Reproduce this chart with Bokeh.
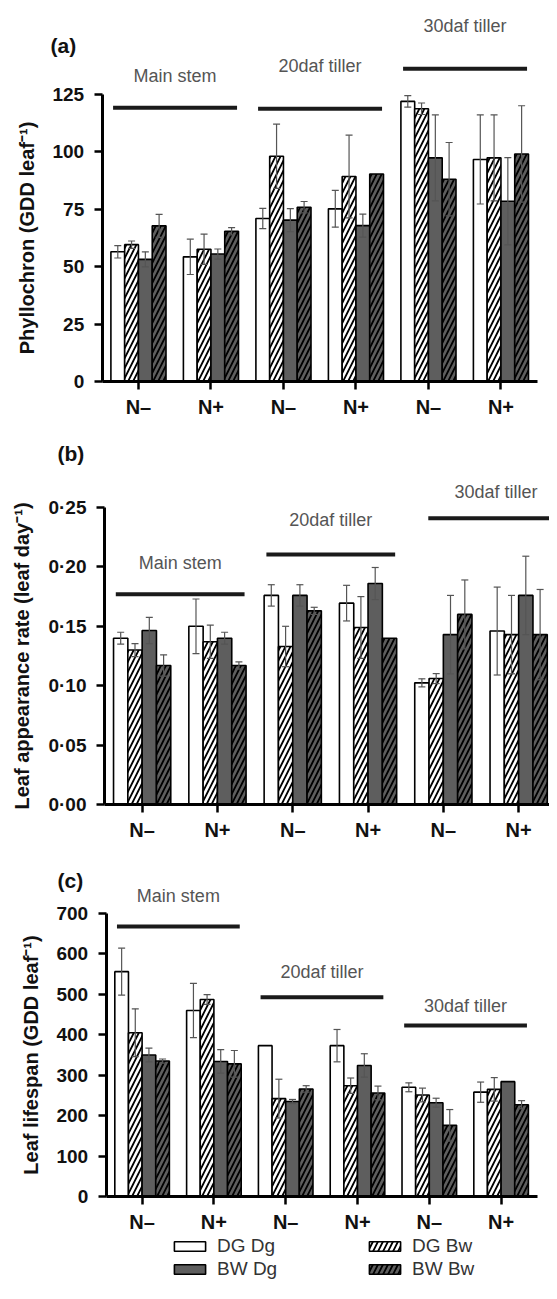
from bokeh.plotting import figure
from bokeh.models import (ColumnDataSource, Whisker, TeeHead, Range1d, FixedTicker,
                          Label, Legend, LegendItem)
from bokeh.layouts import column
from bokeh.embed import file_html
from bokeh.resources import INLINE
from bokeh.core.properties import value

# ---------------- data ----------------
groups = ["Main stem", "20daf tiller", "30daf tiller"]
n_levels = ["N\u2013", "N+"]
series = ["DG Dg", "DG Bw", "BW Dg", "BW Bw"]

# order of positions: Main N-, Main N+, 20daf N-, 20daf N+, 30daf N-, 30daf N+
phyllo_dgdg = [56.5, 54.3, 71.0, 75.2, 122.0, 96.7]
phyllo_dgbw = [59.6, 57.6, 98.1, 89.3, 118.8, 97.4]
phyllo_bwdg = [53.2, 55.5, 70.3, 67.9, 97.4, 78.5]
phyllo_bwbw = [67.8, 65.4, 75.9, 90.4, 88.1, 99.1]
phyllo_err_dgdg = [2.7, 7.7, 4.4, 8.0, 2.5, 19.4]
phyllo_err_dgbw = [1.6, 6.6, 14.0, 18.0, 2.5, 18.7]
phyllo_err_bwdg = [3.3, 2.2, 5.0, 5.0, 18.7, 19.0]
phyllo_err_bwbw = [5.0, 1.6, 2.5, 0.0, 16.0, 21.0]

lar_dgdg = [0.140, 0.150, 0.176, 0.1695, 0.1024, 0.146]
lar_dgbw = [0.130, 0.137, 0.133, 0.149, 0.106, 0.143]
lar_bwdg = [0.1465, 0.140, 0.176, 0.186, 0.143, 0.176]
lar_bwbw = [0.117, 0.117, 0.163, 0.140, 0.160, 0.143]
lar_err_dgdg = [0.005, 0.023, 0.009, 0.015, 0.0034, 0.037]
lar_err_dgbw = [0.0055, 0.014, 0.017, 0.026, 0.0042, 0.033]
lar_err_bwdg = [0.011, 0.005, 0.009, 0.0135, 0.033, 0.033]
lar_err_bwbw = [0.009, 0.003, 0.003, 0.0, 0.029, 0.038]

life_dgdg = [556, 460, 373, 373, 270, 258]
life_dgbw = [405, 487, 242, 274, 251, 265]
life_bwdg = [350, 334, 235, 324, 232, 284]
life_bwbw = [335, 328, 266, 256, 176, 227]
life_err_dgdg = [58, 67, 0, 40, 11, 25]
life_err_dgbw = [59, 12, 48, 19, 17, 29]
life_err_bwdg = [17, 29, 5, 29, 11, 0]
life_err_bwbw = [5, 33, 8, 17, 39, 10]

ticks_a = [0, 25, 50, 75, 100, 125]
ticks_b = [0.0, 0.05, 0.10, 0.15, 0.20, 0.25]
tick_labels_b = ["0\u00b700", "0\u00b705", "0\u00b710", "0\u00b715", "0\u00b720", "0\u00b725"]
ticks_c = [0, 100, 200, 300, 400, 500, 600, 700]

# group bracket heights (line, label) per panel
bracket_a = ([119.2, 118.8, 136.2], [133.0, 137.6, 154.7])
bracket_b = ([0.177, 0.2104, 0.241], [0.203, 0.2396, 0.263])
bracket_c = ([667.7, 493.0, 423.0], [744.0, 554.6, 472.0])

# ---------------- styles ----------------
FONT = "Liberation Sans"
DARK = "#5e5e5e"
INK = "#111111"
styles = [
    dict(fill_color="white", hatch_pattern=" "),
    dict(fill_color="white", hatch_pattern="/"),
    dict(fill_color=DARK, hatch_pattern=" "),
    dict(fill_color=DARK, hatch_pattern="/"),
]
offsets = [-0.285, -0.095, 0.095, 0.285]
BAR_W = 0.19
W = 549


def make_panel(means, errs, ylabel, ticks, tick_labels, ybound,
               H, axis_px, unit_px, zero_px, y_px, brackets, letter, letter_xy):
    # frame covers the whole canvas; axes are fixed at x=0 / y=0 in data space
    x0 = -axis_px / unit_px
    x1 = x0 + W / unit_px
    y1 = zero_px / y_px
    y0 = -(H - zero_px) / y_px
    p = figure(width=W, height=H, output_backend="svg", toolbar_location=None,
               x_range=Range1d(x0, x1), y_range=Range1d(y0, y1),
               min_border=0, min_border_left=0, min_border_right=0,
               min_border_top=0, min_border_bottom=0)
    p.outline_line_color = None
    p.grid.visible = False
    p.background_fill_color = None
    p.border_fill_color = None

    renderers = []
    for k in range(4):
        xs = [i + 0.5 + offsets[k] for i in range(6)]
        src = ColumnDataSource(dict(x=xs, top=means[k]))
        r = p.vbar(x="x", top="top", width=BAR_W, bottom=0, source=src,
                   line_color="black", line_width=1.6, hatch_color="black",
                   hatch_scale=10, hatch_weight=1.8, **styles[k])
        renderers.append(r)
        ex = [x for x, e in zip(xs, errs[k]) if e > 0]
        lo = [m - e for m, e in zip(means[k], errs[k]) if e > 0]
        up = [m + e for m, e in zip(means[k], errs[k]) if e > 0]
        wsrc = ColumnDataSource(dict(x=ex, lower=lo, upper=up))
        w = Whisker(base="x", lower="lower", upper="upper", source=wsrc,
                    line_color="#555555", line_width=1.2, level="overlay",
                    upper_head=TeeHead(size=7, line_color="#555555", line_width=1.2),
                    lower_head=TeeHead(size=7, line_color="#555555", line_width=1.2))
        p.add_layout(w)

    line_y, label_y = brackets
    gx0 = [2 * g + 0.15 for g in range(3)]
    gx1 = [2 * g + 1.86 for g in range(3)]
    if letter == "(b)":
        gx0[2] = 4.3
        gx1[2] = 6.1
    p.segment(x0=gx0, x1=gx1, y0=line_y, y1=line_y, line_width=4, line_color="#1a1a1a")
    p.text(x=[(a + b) / 2 for a, b in zip(gx0, gx1)], y=label_y, text=groups,
           text_font=value(FONT), text_font_size="18px", text_color="#555555",
           text_align="center", text_baseline="middle")

    # x axis
    xa = p.xaxis[0]
    xa.fixed_location = 0
    xa.bounds = (0, 6)
    xa.ticker = FixedTicker(ticks=[i + 0.5 for i in range(6)])
    xa.major_label_overrides = {i + 0.5: n_levels[i % 2] for i in range(6)}
    xa.minor_tick_line_color = None
    xa.major_tick_in = 0
    xa.major_tick_out = 8
    xa.major_tick_line_width = 2.5
    xa.axis_line_width = 3
    xa.major_label_standoff = 6
    xa.major_label_text_font = FONT
    xa.major_label_text_font_size = "20px"
    xa.major_label_text_font_style = "bold"
    xa.major_label_text_color = INK

    ya = p.yaxis[0]
    ya.fixed_location = 0
    ya.ticker = FixedTicker(ticks=ticks)
    if tick_labels is not None:
        ya.major_label_overrides = {t: s for t, s in zip(ticks, tick_labels)}
    ya.bounds = (0, ybound)
    ya.minor_tick_line_color = None
    ya.major_tick_in = 0
    ya.major_tick_out = 8
    ya.major_tick_line_width = 2.5
    ya.axis_line_width = 3
    ya.major_label_standoff = 10
    ya.major_label_text_font = FONT
    ya.major_label_text_font_size = "19px"
    ya.major_label_text_font_style = "bold"
    ya.major_label_text_color = INK
    ya.axis_label = ylabel
    ya.axis_label_text_font = FONT
    ya.axis_label_text_font_size = "20px"
    ya.axis_label_text_font_style = "bold"
    ya.axis_label_text_color = INK
    ya.axis_label_standoff = 12

    p.add_layout(Label(x=letter_xy[0], y=letter_xy[1], text=letter, text_font=FONT,
                       text_font_size="21px", text_font_style="bold",
                       text_color=INK, text_align="left",
                       text_baseline="middle"))
    return p, renderers


pa, _ = make_panel([phyllo_dgdg, phyllo_dgbw, phyllo_bwdg, phyllo_bwbw],
                   [phyllo_err_dgdg, phyllo_err_dgbw, phyllo_err_bwdg, phyllo_err_bwbw],
                   "Phyllochron (GDD leaf\u207b\u00b9)", ticks_a, None, 125,
                   430, 101.7, 72.5, 381, 2.296, bracket_a, "(a)", (-0.713, 146.3))
pb, _ = make_panel([lar_dgdg, lar_dgbw, lar_bwdg, lar_bwbw],
                   [lar_err_dgdg, lar_err_dgbw, lar_err_bwdg, lar_err_bwbw],
                   "Leaf appearance rate (leaf day\u207b\u00b9)", ticks_b, tick_labels_b,
                   0.25, 423, 104, 75.3, 374, 1188.0, bracket_b, "(b)", (-0.624, 0.2955))
pc, rc = make_panel([life_dgdg, life_dgbw, life_bwdg, life_bwbw],
                    [life_err_dgdg, life_err_dgbw, life_err_bwdg, life_err_bwbw],
                    "Leaf lifespan (GDD leaf\u207b\u00b9)", ticks_c, None, 700,
                    430, 105.7, 71.8, 343, 0.4044, bracket_c, "(c)", (-0.678, 781))

# column-major filling: column 1 = DG Dg, BW Dg ; column 2 = DG Bw, BW Bw
legend_order = [0, 2, 1, 3]
legend = Legend(items=[LegendItem(label=series[i], renderers=[rc[i]]) for i in legend_order],
                location=(170, 3), ncols=2, glyph_width=39, glyph_height=12,
                label_standoff=8, label_width=147, spacing=1, padding=0, margin=0,
                label_text_font=FONT, label_text_font_size="19px",
                label_text_color="#333333", border_line_color=None,
                background_fill_color=None, background_fill_alpha=0)
pc.add_layout(legend, "center")

layout = column(pa, pb, pc, spacing=0)
open("out.html", "w").write(file_html(layout, INLINE))
